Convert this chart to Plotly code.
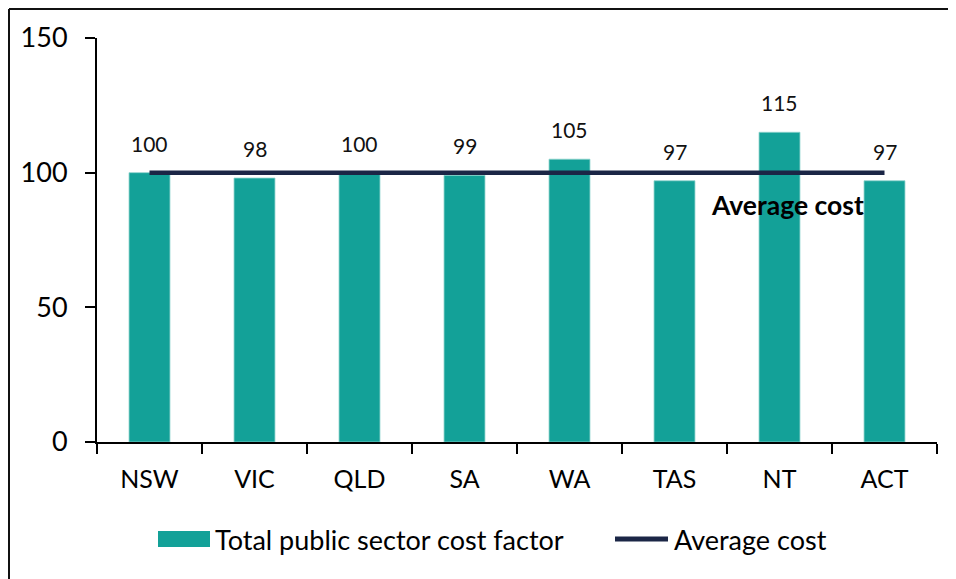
import plotly.graph_objects as go

states = ["NSW", "VIC", "QLD", "SA", "WA", "TAS", "NT", "ACT"]
cost_factor = [100, 98, 100, 99, 105, 97, 115, 97]
average_cost = [100, 100, 100, 100, 100, 100, 100, 100]
y_ticks = [0, 50, 100, 150]

# page body has an 8px margin; positions below are in screen pixels
OFF = 8
W, H = 956 - OFF, 579 - OFF
L, R, T, B = 97 - OFF, 19, 38 - OFF, 137
PW, PH = W - L - R, H - T - B

def px(x):
    return (x - OFF - L) / PW

def py(y):
    return (H - B - (y - OFF)) / PH

FONT = "Lato, Carlito, Calibri, sans-serif"
TEAL = "#13A198"
NAVY = "#1B2646"

fig = go.Figure()
fig.add_trace(go.Bar(x=states, y=cost_factor, marker=dict(color=TEAL, line=dict(color="#8fd3cd", width=0.8)),
                     name="Total public sector cost factor", showlegend=False))
fig.add_trace(go.Scatter(x=states, y=average_cost, mode="lines",
                         line=dict(color=NAVY, width=4.5), name="Average cost", showlegend=False))

annotations = []
for s, v in zip(states, cost_factor):
    annotations.append(dict(x=s, y=v, xref="x", yref="y", text=str(v), showarrow=False,
                            yanchor="bottom", yshift=15, font=dict(family=FONT, size=21, color="#111")))
annotations.append(dict(x=px(787.5), y=88, xref="paper", yref="y", text="<b>Average cost</b>",
                        showarrow=False, xanchor="center", yanchor="middle",
                        font=dict(family=FONT, size=26.5, color="#000")))
# legend
annotations.append(dict(x=px(213), y=py(539), xref="paper", yref="paper", text="Total public sector cost factor",
                        showarrow=False, xanchor="left", yanchor="middle",
                        font=dict(family=FONT, size=27, color="#000")))
annotations.append(dict(x=px(672), y=py(539), xref="paper", yref="paper", text="Average cost",
                        showarrow=False, xanchor="left", yanchor="middle",
                        font=dict(family=FONT, size=27, color="#000")))

shapes = [
    dict(type="rect", xref="paper", yref="paper", x0=px(158), x1=px(210), y0=py(531), y1=py(547),
         fillcolor=TEAL, line=dict(width=0)),
    dict(type="line", xref="paper", yref="paper", x0=px(615), x1=px(668), y0=py(539), y1=py(539),
         line=dict(color=NAVY, width=5)),
    # chart border (top and left)
    dict(type="line", xref="paper", yref="paper", x0=px(9), x1=px(960), y0=py(9), y1=py(9),
         line=dict(color="#111", width=2)),
    dict(type="line", xref="paper", yref="paper", x0=px(9), x1=px(9), y0=py(9), y1=py(590),
         line=dict(color="#111", width=2)),
]

fig.update_layout(
    width=W, height=H,
    margin=dict(l=L, r=R, t=T, b=B, pad=0),
    paper_bgcolor="white", plot_bgcolor="white",
    bargap=0.61,
    showlegend=False,
    annotations=annotations,
    shapes=shapes,
    font=dict(family=FONT, color="#000"),
)
fig.update_xaxes(
    type="category", showline=True, linecolor="#000", linewidth=2,
    ticks="outside", ticklen=10, tickwidth=2, tickcolor="#000", tickson="boundaries",
    tickfont=dict(family=FONT, size=25, color="#000"), showgrid=False, zeroline=False,
    ticklabelstandoff=14,
)
fig.update_yaxes(
    range=[0, 150], tickvals=y_ticks, ticktext=[str(t) for t in y_ticks],
    showline=True, linecolor="#000", linewidth=2,
    ticks="outside", ticklen=10, tickwidth=2, tickcolor="#000",
    tickfont=dict(family=FONT, size=27, color="#000"), showgrid=False, zeroline=False,
    ticklabelstandoff=12,
)

fig.write_html("out.html")
